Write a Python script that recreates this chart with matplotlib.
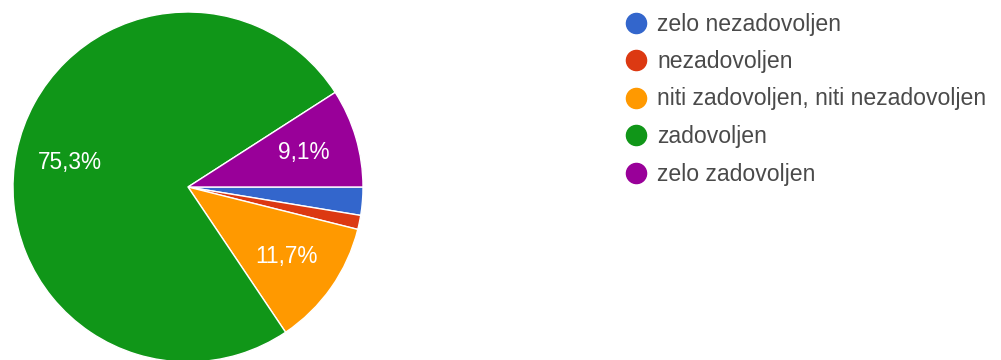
import matplotlib
matplotlib.use("Agg")
import matplotlib.pyplot as plt
from matplotlib.lines import Line2D

categories = [
    "zelo nezadovoljen",
    "nezadovoljen",
    "niti zadovoljen, niti nezadovoljen",
    "zadovoljen",
    "zelo zadovoljen",
]
counts = [2, 1, 9, 58, 7]
colors = ["#3366CC", "#DC3912", "#FF9900", "#109618", "#990099"]

plt.rcParams["font.family"] = ["Liberation Sans", "DejaVu Sans"]

W, H = 1001, 360
fig = plt.figure(figsize=(W / 100, H / 100), dpi=100)

# pie geometry in pixels
cx, cy, r = 188, 173, 175  # cy measured from bottom
ax = fig.add_axes([(cx - r) / W, (cy - r) / H, 2 * r / W, 2 * r / H])


def pct_label(p):
    return (f"{p:.1f}%".replace(".", ",")) if p >= 5 else ""


wedges, texts, autotexts = ax.pie(
    counts,
    colors=colors,
    startangle=0,
    counterclock=False,
    autopct=pct_label,
    pctdistance=0.69,
    wedgeprops=dict(edgecolor="white", linewidth=1.0),
    textprops=dict(color="white", fontsize=16.3),
    radius=1.0,
)
ax.set_xlim(-1, 1)
ax.set_ylim(-1, 1)
ax.set_aspect("equal")
ax.axis("off")

# legend
lx, ly0, dy = 636, 22.5, 37.5
for i, (name, col) in enumerate(zip(categories, colors)):
    y = H - (ly0 + i * dy)
    fig.add_artist(Line2D([lx / W], [y / H], marker="o", markersize=14.5,
                          color=col, linestyle="none", transform=fig.transFigure))
    fig.text((lx + 21) / W, (y - 8) / H, name, fontsize=16.6, color="#4a4a4a",
             va="baseline", ha="left")

fig.savefig("out.png", dpi=100, facecolor="white")
